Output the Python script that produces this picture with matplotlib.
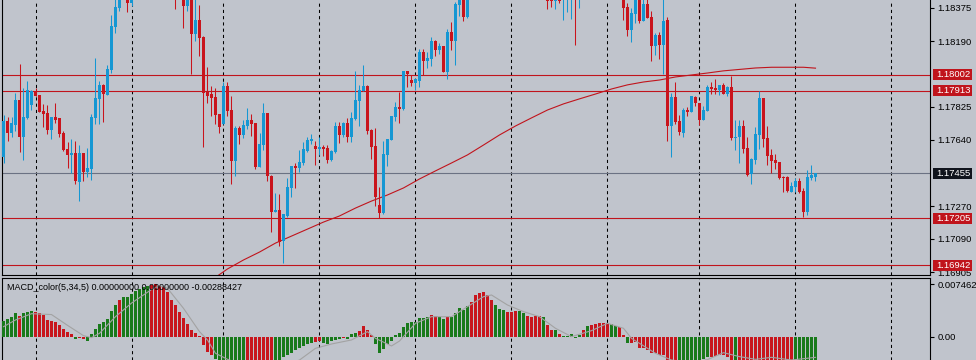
import matplotlib
matplotlib.use("Agg")
import matplotlib.pyplot as plt
from matplotlib.patches import Rectangle

# ---------------- data (prices in points, 1 point = 0.00001) ----------------
opens = [117547,117746,117681,117725,117863,117659,117763,117837,117911,117891,
         117802,117790,117698,117768,117763,117679,117590,117558,117568,117408,
         117568,117464,117480,117764,117870,117946,117893,118032,118271,118377,
         118476,118531,118405,118504,118587,118643,118606,118680,118717,118661,
         118624,118587,118531,118578,118457,118494,118388,118448,118232,118309,
         118216,117909,117898,117880,117785,117731,117941,117807,117525,117707,
         117670,117720,117751,117735,117491,117614,117790,117441,117241,117250,
         117079,117218,117374,117497,117486,117510,117581,117634,117608,117590,
         117603,117597,117529,117573,117718,117670,117735,117659,117759,117859,
         117913,117941,117696,117607,117278,117235,117558,117642,117770,117824,
         117815,118024,117974,117959,117969,118130,118082,118093,118192,118143,
         118164,118021,118242,118193,118394,118439,118327,118457,118531,118587,
         118559,118531,118550,118513,118494,118522,118504,118531,118550,118559,
         118531,118513,118504,118522,118531,118504,118476,118476,118414,118466,
         118429,118448,118476,118513,118439,118494,118531,118559,118541,118569,
         118550,118531,118550,118513,118494,118466,118381,118255,118344,118429,
         118305,118398,118325,118166,118227,118171,118309,117720,117880,117746,
         117681,117807,117798,117881,117846,117753,117803,117935,117932,117919,
         117946,117898,117935,117653,117655,117718,117597,117452,117529,117670,
         117874,117653,117558,117530,117517,117436,117436,117352,117380,117413,
         117358,117241,117430,117436]
highs = [117779,117770,117770,117902,118063,117930,117969,117919,117930,117891,
         117841,117833,117768,117846,117763,117690,117629,117646,117634,117612,
         117568,117595,117785,118097,117969,117952,118058,118336,118429,118494,
         118559,118550,118522,118606,118671,118661,118699,118745,118736,118680,
         118652,118606,118596,118596,118522,118513,118476,118466,118429,118392,
         118221,118047,117941,117928,117785,117963,117963,117885,117718,117718,
         117751,117820,117783,117735,117681,117846,117790,117445,117343,117337,
         117226,117426,117497,117510,117584,117631,117659,117673,117634,117659,
         117612,117612,117586,117740,117740,117740,117763,117796,118024,117946,
         118058,117946,117699,117709,117378,117636,117646,117774,117852,117907,
         118024,118024,118000,117980,118145,118145,118130,118214,118197,118180,
         118164,118260,118297,118409,118476,118466,118476,118550,118606,118615,
         118578,118569,118569,118531,118541,118541,118550,118569,118587,118578,
         118550,118531,118541,118559,118550,118522,118504,118513,118494,118504,
         118494,118513,118550,118550,118513,118550,118578,118569,118587,118578,
         118559,118569,118559,118522,118513,118494,118401,118374,118439,118448,
         118439,118429,118359,118238,118242,118440,118325,117902,117963,117779,
         117818,117824,117885,117885,117846,117829,117946,117963,117980,117946,
         117958,117941,117998,117751,117751,117751,117659,117540,117712,117913,
         117874,117718,117592,117562,117517,117441,117441,117408,117430,117430,
         117374,117475,117503,117456]
lows = [117510,117636,117659,117692,117575,117530,117757,117807,117885,117798,
        117714,117675,117647,117737,117659,117581,117486,117456,117397,117302,
        117413,117436,117419,117731,117731,117742,117893,118015,118238,118361,
        118466,118355,118388,118494,118578,118587,118596,118661,118643,118606,
        118569,118531,118513,118370,118429,118266,118361,118010,118193,118110,
        117603,117848,117776,117731,117681,117731,117776,117397,117441,117620,
        117653,117703,117664,117480,117491,117586,117413,117129,117237,117051,
        116953,117209,117324,117374,117464,117503,117575,117618,117503,117556,
        117553,117514,117525,117566,117625,117659,117631,117631,117751,117720,
        117913,117675,117536,117274,117207,117230,117497,117642,117748,117737,
        117809,117935,117941,117919,117935,118000,118043,118054,118108,118119,
        118021,117982,118143,118060,118331,118305,118322,118448,118522,118541,
        118513,118513,118494,118476,118476,118485,118494,118522,118531,118513,
        118494,118476,118485,118504,118485,118457,118370,118383,118370,118405,
        118309,118355,118314,118171,118375,118485,118522,118522,118531,118531,
        118513,118522,118494,118476,118448,118309,118221,118188,118294,118294,
        118305,118322,118082,118115,118093,118010,117636,117547,117731,117670,
        117659,117776,117798,117831,117725,117753,117803,117894,117894,117891,
        117898,117887,117642,117586,117514,117569,117441,117397,117508,117592,
        117603,117503,117458,117480,117425,117352,117352,117352,117352,117347,
        117213,117224,117419,117413]
closes = [117746,117681,117735,117863,117659,117768,117919,117911,117887,117798,
          117785,117698,117768,117751,117675,117586,117558,117568,117413,117568,
          117464,117484,117768,117874,117946,117896,118036,118275,118381,118476,
          118531,118405,118504,118587,118643,118606,118680,118717,118661,118624,
          118587,118550,118578,118457,118494,118388,118448,118232,118309,118210,
          117904,117887,117876,117779,117714,117941,117803,117525,117707,117670,
          117724,117751,117731,117491,117618,117790,117441,117241,117250,117074,
          117226,117376,117497,117486,117516,117590,117640,117646,117590,117603,
          117590,117529,117579,117718,117670,117735,117659,117763,117863,117919,
          117941,117692,117603,117324,117235,117562,117646,117774,117824,117815,
          118024,118010,117959,117980,118130,118082,118097,118192,118143,118164,
          118021,118242,118193,118398,118439,118327,118457,118531,118587,118559,
          118531,118550,118513,118494,118522,118504,118531,118550,118559,118531,
          118513,118504,118522,118531,118504,118476,118414,118414,118457,118416,
          118466,118485,118513,118439,118494,118531,118559,118541,118569,118550,
          118531,118550,118513,118494,118466,118377,118255,118348,118429,118305,
          118398,118322,118166,118227,118171,118303,117720,117880,117740,117686,
          117807,117798,117885,117848,117753,117807,117935,117926,117919,117946,
          117898,117935,117653,117659,117720,117592,117447,117532,117673,117874,
          117647,117553,117525,117514,117430,117430,117358,117386,117413,117352,
          117241,117436,117447,117455]

# moving average (read at every few bars)
ma_idx = [52,56,60,64,68,72,76,80,84,88,92,96,100,104,108,112,116,120,124,128,
          132,136,140,144,148,152,156,160,164,168,172,176,180,184,188,192,196,200,203]
ma_val = [116860,116922,116972,117016,117066,117105,117144,117183,117217,117261,
          117300,117334,117373,117423,117468,117512,117557,117612,117668,117718,
          117763,117807,117841,117869,117896,117924,117947,117963,117974,117991,
          118002,118013,118025,118033,118041,118045,118045,118045,118040]

# horizontal levels
res_levels = [1.18002, 1.17913, 1.17205, 1.16942]
last_price = 1.17455
price_ticks = [1.18375, 1.18190, 1.17825, 1.17640, 1.17270, 1.17090, 1.16905]
day_sep = [8, 32, 55, 79, 103, 127, 151, 174, 198, 222]

# MACD histogram (value, colour g/r)
macd_hist = [.00231,.00255,.00283,.00345,.00297,.00335,.00354,.00368,.00359,.00335,
             .00307,.00241,.00227,.00208,.00170,.00109,.00071,.00047,-.00033,-.00014,
             -.00024,-.00061,.00042,.00109,.00184,.00217,.00260,.00373,.00453,.00524,
             .00571,.00566,.00609,.00656,.00684,.00703,.00722,.00740,.00746,.00722,
             .00713,.00637,.00524,.00453,.00354,.00264,.00179,.00099,.00052,.00014,
             -.00113,-.00208,-.00255,-.00316,-.00380,-.00370,-.00360,-.00355,-.00350,-.00345,
             -.00342,-.00338,-.00335,-.00345,-.00360,-.00370,-.00390,-.00420,-.00430,-.00440,
             -.00288,-.00255,-.00231,-.00184,-.00160,-.00127,-.00099,-.00080,-.00066,-.00052,
             -.00080,-.00099,-.00052,-.00042,-.00028,-.00019,-.00025,.00038,.00052,.00085,
             .00156,.00099,.00028,-.00099,-.00222,-.00175,-.00099,-.00057,.00028,.00052,
             .00146,.00203,.00212,.00217,.00264,.00265,.00288,.00312,.00302,.00288,
             .00250,.00288,.00290,.00345,.00406,.00382,.00439,.00500,.00590,.00618,
             .00642,.00595,.00524,.00453,.00396,.00382,.00359,.00361,.00362,.00363,
             .00335,.00297,.00288,.00297,.00298,.00278,.00170,.00099,.00100,.00042,
             .00014,.00013,.00038,-.00009,.00028,.00099,.00160,.00170,.00179,.00194,
             .00193,.00195,.00179,.00160,.00137,.00028,-.00090,-.00080,-.00070,-.00160,
             -.00150,-.00190,-.00220,-.00230,-.00260,-.00250,-.00360,-.00380,-.00400,-.00420,
             -.00430,-.00440,-.00450,-.00460,-.00330,-.00310,-.00290,-.00280,-.00270,-.00260,
             -.00250,-.00290,-.00330,-.00360,-.00380,-.00400,-.00420,-.00400,-.00410,-.00420,
             -.00430,-.00440,-.00450,-.00455,-.00460,-.00462,-.00464,-.00466,-.00468,-.00469,
             -.00470,-.00400,-.00380,-.00360]
macd_col = ("gggg" "rggg" "rrrr" "rrrr" "rrgr" "rggg" "gggg" "grgg" "gggg" "grrr"
            "rrrr" "rrrr" "rrrr" "rggg" "gggg" "grrr" "rrrr" "gggg" "gggg" "ggrr"
            "gggg" "grgg" "grrr" "rggg" "gggg" "gggg" "gggr" "rggr" "gggg" "grrr"
            "rrrg" "ggrr" "rggr" "rrrg" "rrgr" "gggg" "grgr" "rrrr" "ggrr" "grrr"
            "rrrr" "rrrr" "rggg" "gggg" "grrr" "rrrg" "rrrr" "rrrr" "rrrr" "rrgg" "gggg")

# MACD signal line (read at every few bars)
sig_idx = [0,3,7,12,16,20,22,24,28,32,37,39,41,45,49,51,53,56,60,66,70,74,78,82,87,
           91,93,97,99,103,107,112,116,120,122,126,130,134,138,142,147,151,155,157,
           163,167,172,176,180,184,188,192,197,203]
sig_val = [.00146,.00241,.00330,.00318,.00165,.00019,-.00009,.00052,.00288,.00480,
           .00672,.00727,.00689,.00406,.00076,-.00042,-.00231,-.00316,-.00400,-.00420,
           -.00400,-.00326,-.00160,-.00099,-.00042,.00076,-.00019,-.00127,-.00057,.00194,
           .00288,.00288,.00430,.00571,.00595,.00453,.00359,.00288,.00123,.00005,
           .00090,.00194,.00123,-.00019,-.00231,-.00326,-.00360,-.00320,-.00222,-.00278,
           -.00316,-.00288,-.00326,-.00288]
macd_top_label = 0.0074624
macd_title = "MACD_color(5,34,5) 0.00000000 0.00000000 -0.00288427"

# ---------------- style ----------------
BG = "#C0C4CC"
BULL = "#1597D3"
BEAR = "#C9141C"
LRED = "#C0141C"
GREEN = "#197A1B"
MRED = "#C8161D"
FONT = ["Liberation Sans", "DejaVu Sans"]
plt.rcParams["font.family"] = FONT
FS = 6.8

W, H = 976, 360
fig = plt.figure(figsize=(W / 100, H / 100), dpi=100)
fig.patch.set_facecolor(BG)

ax = fig.add_axes([2 / W, 1 - 275 / H, 928 / W, 275 / H])
axm = fig.add_axes([2 / W, 0, 928 / W, (360 - 277.5) / H])

XL = (-0.375, 231.625)
for a in (ax, axm):
    a.set_facecolor(BG)
    a.set_xlim(*XL)
    a.set_xticks([])
    for s in a.spines.values():
        s.set_color("black")
        s.set_linewidth(0.8)
    a.spines["top"].set_visible(False)
    for d in day_sep:
        a.axvline(d, color="black", lw=0.75, ls=(0, (3, 3)), zorder=1)
axm.spines["top"].set_visible(True)
axm.spines["bottom"].set_visible(False)

# price panel
ax.set_ylim(1.168883, 1.184195)
ks = list(range(len(opens)))
o = [v / 1e5 for v in opens]
h = [v / 1e5 for v in highs]
l = [v / 1e5 for v in lows]
c = [v / 1e5 for v in closes]
cols = [BULL if cc >= oo else BEAR for oo, cc in zip(o, c)]

for lv in res_levels:
    ax.axhline(lv, color=LRED, lw=0.8, zorder=2)
ax.axhline(last_price, color="#6B7283", lw=0.8, zorder=2)

ax.plot([i for i in ma_idx], [v / 1e5 for v in ma_val], color=LRED, lw=0.8, zorder=3)

ax.vlines(ks, l, h, colors=cols, lw=0.75, zorder=4)
ax.bar(ks, [max(abs(cc - oo), 0.000012) for oo, cc in zip(o, c)],
       bottom=[min(oo, cc) for oo, cc in zip(o, c)], width=0.75,
       color=cols, lw=0, zorder=5)

ax.yaxis.tick_right()
ax.set_yticks(price_ticks)
ax.set_yticklabels([f"{t:.5f}" for t in price_ticks])
ax.tick_params(axis="y", direction="out", length=3, width=0.8, pad=2.5,
               labelsize=FS, colors="black")

fig.canvas.draw()


def label_box(level, fc):
    yd = ax.transData.transform((0, level))[1]
    fig.patches.append(Rectangle((933 / W, (yd - 5.5) / H), 39 / W, 11 / H,
                                 transform=fig.transFigure, fc=fc, ec="none", zorder=10))
    fig.text(936 / W, yd / H, f"{level:.5f}", color="white", fontsize=FS,
             va="center", ha="left", zorder=11)


for lv in res_levels:
    label_box(lv, LRED)
label_box(last_price, "#10141C")

# MACD panel
scale = 1.416e-4
axm.set_ylim(-23 * scale, 59.5 * scale)
axm.bar(ks, macd_hist, width=0.75,
        color=[GREEN if ch == "g" else MRED for ch in macd_col], lw=0, zorder=3)
axm.plot(sig_idx, sig_val, color="#A3A3A3", lw=0.8, zorder=4)
axm.yaxis.tick_right()
axm.set_yticks([macd_top_label, 0.0])
axm.set_yticklabels(["0.0074624", "0.00"])
axm.tick_params(axis="y", direction="out", length=3, width=0.8, pad=2.5,
                labelsize=FS, colors="black")
fig.text(7 / W, 1 - 287 / H, macd_title, fontsize=6.5, va="center", ha="left",
         color="black")

fig.savefig("out.png", dpi=100, facecolor=BG)
